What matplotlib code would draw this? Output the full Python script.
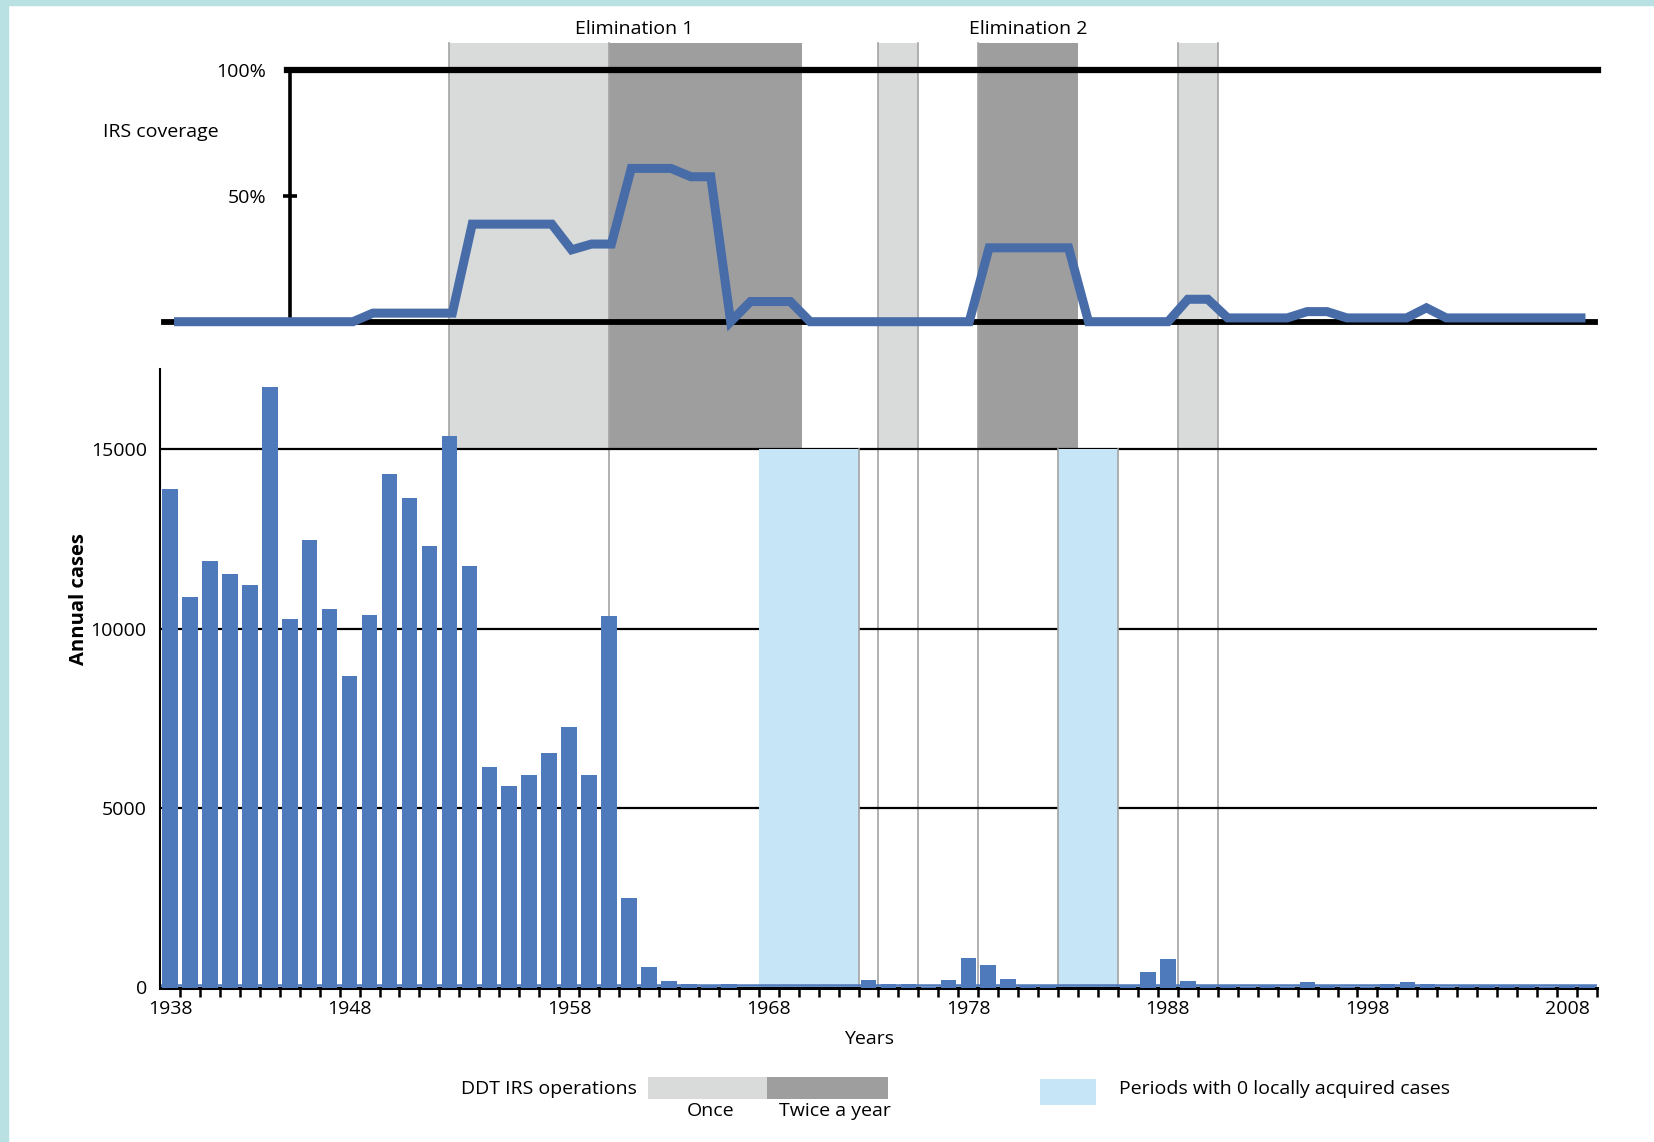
import matplotlib.pyplot as plt
import matplotlib.transforms as mtransforms
from matplotlib.patches import Rectangle
import numpy as np

plt.rcParams["font.family"] = ["Open Sans", "DejaVu Sans"]

# --- data ---
years = list(range(1938, 2010))
cases = [
    13900, 10880, 11890, 11530, 11210, 16750, 10270, 12480, 10560, 8690,
    10370, 14300, 13650, 12320, 15360, 11740, 6160, 5630, 5910, 6530,
    7260, 5910, 10360, 2500, 580, 180, 100, 30, 100, 0,
    0, 0, 0, 0, 0, 200, 100, 100, 20, 200,
    830, 630, 230, 30, 65, 0, 0, 0, 65, 440,
    790, 190, 65, 65, 20, 65, 20, 150, 65, 20,
    20, 100, 150, 100, 20, 65, 65, 65, 65, 20,
    65, 65,
]
irs_coverage = (
    [0] * 10 + [3.4] * 5 + [38.7] * 5 + [28.5] + [30.8] * 2 + [60.8] * 3
    + [57.5] * 2 + [0] + [8] * 3 + [0] * 9 + [29.3] * 5 + [0] * 5
    + [8.9] * 2 + [1.5] * 4 + [4] * 2 + [1.5] * 4 + [5.5] + [1.5] * 8
)

once_periods = [(1952, 1960), (1973.5, 1975.5), (1988.5, 1990.5)]
twice_periods = [(1960, 1969.65), (1978.5, 1983.5)]
zero_periods = [(1967.5, 1972.5), (1982.5, 1985.5)]
op_edges = [1952, 1960, 1973.5, 1975.5, 1978.5, 1988.5, 1990.5]
zero_edges = [1972.5, 1982.5, 1985.5]

label_years = ["1938", "1948", "1958", "1968", "1978", "1988", "1998", "2008"]
label_pos = [1938, 1947, 1958, 1968, 1978, 1988, 1998, 2008]
case_ticks = [0, 5000, 10000, 15000]

BAR = "#4e79bb"
LINE = "#476ca8"
LIGHT = "#d9dbdb"
DARK = "#9e9e9e"
ZERO = "#c6e5f7"
EDGE = "#a3a3a3"

W, H = 1654, 1142


def fx(px):
    return px / W


def fy(py):
    return 1 - py / H


fig = plt.figure(figsize=(W / 100, H / 100), dpi=100)

# teal frame on left and top
fig.add_artist(Rectangle((0, 0), fx(8), 1, transform=fig.transFigure,
                         color="#b9e0e3", zorder=-5))
fig.add_artist(Rectangle((0, fy(5)), 1, 1 - fy(5), transform=fig.transFigure,
                         color="#b9e0e3", zorder=-5))

# --- annual cases bars ---
y0_px, ytop_px = 987.5, 369
ytop = 17240
ax = fig.add_axes([fx(160), fy(y0_px), fx(1597) - fx(160), fy(ytop_px) - fy(y0_px)])
ax.patch.set_visible(False)
ax.set_xlim(1937.5, 2009.5)
ax.set_ylim(0, ytop)

shade_lo = 15000 / ytop
shade_hi = (y0_px - 42.5) / (y0_px - ytop_px)
xt = ax.get_xaxis_transform()
for a, b in once_periods:
    ax.axvspan(a, b, ymin=shade_lo, ymax=shade_hi, color=LIGHT, lw=0,
               clip_on=False, zorder=0.1)
for a, b in twice_periods:
    ax.axvspan(a, b, ymin=shade_lo, ymax=shade_hi, color=DARK, lw=0,
               clip_on=False, zorder=0.1)
for x in op_edges:
    ax.plot([x, x], [0, shade_hi], transform=xt, color=EDGE, lw=1.2,
            clip_on=False, zorder=0.3)

for v in case_ticks[1:]:
    ax.axhline(v, color="black", lw=1.6, zorder=0.5)

for a, b in zero_periods:
    ax.fill_between([a, b], 0, 15000, color=ZERO, lw=0, zorder=0.8)
for x in zero_edges:
    ax.plot([x, x], [0, shade_lo], transform=xt, color=EDGE, lw=1.2, zorder=0.9)

ax.bar(years, cases, width=0.78, color=BAR, zorder=2)
base = mtransforms.offset_copy(ax.transData, fig=fig, y=2.5, units="dots")
ax.plot([1937.5, 2009.5], [0, 0], color=BAR, lw=1.8, transform=base, zorder=2.1)

for s in ["top", "right"]:
    ax.spines[s].set_visible(False)
ax.spines["left"].set_linewidth(1.5)
ax.spines["bottom"].set_linewidth(2.2)
ax.spines["bottom"].set_zorder(1.9)

ax.set_xticks(label_pos, label_years)
ax.set_xticks(np.arange(1938.5, 2010, 1), minor=True)
ax.tick_params(axis="x", which="major", length=0, pad=9, labelsize=14)
ax.tick_params(axis="x", which="minor", length=6.5, width=1.8, direction="out")
ax.set_yticks(case_ticks, [str(v) for v in case_ticks])
ax.tick_params(axis="y", length=0, pad=9.5, labelsize=14)

fig.text(fx(79), fy(599), "Annual cases", rotation=90, ha="center", va="center",
         fontsize=14.5, fontweight="bold")
fig.text(fx(869), fy(1039), "Years", ha="center", va="center", fontsize=14)

# --- IRS coverage panel ---
left_px, right_px = 163.5, 1598
axt = fig.add_axes([fx(left_px), fy(321.7), fx(right_px) - fx(left_px), fy(69.6) - fy(321.7)])
axt.patch.set_visible(False)
axt.set_xlim(1937.47, 2009.63)
axt.set_ylim(0, 100)
for s in ["top", "right", "bottom"]:
    axt.spines[s].set_visible(False)
axt.spines["left"].set_position(("axes", (289.5 - left_px) / (right_px - left_px)))
axt.spines["left"].set_linewidth(2.6)
axt.axhline(100, xmin=(286.9 - left_px) / (right_px - left_px), xmax=1,
            color="black", lw=4.5, clip_on=False)
axt.axhline(0, xmin=0, xmax=(1594.8 - left_px) / (right_px - left_px),
            color="black", lw=4.2, clip_on=False)
axt.plot(years, irs_coverage, color=LINE, lw=6.5, solid_joinstyle="miter",
         solid_capstyle="butt", clip_on=False, zorder=3)
axt.set_xticks([])
axt.set_yticks([50, 100], ["50%", "100%"])
axt.tick_params(axis="y", direction="inout", length=10, width=2.6, pad=12,
                labelsize=14)
axt.yaxis.get_major_ticks()[1].tick1line.set_visible(False)

fig.text(fx(103), fy(132), "IRS coverage", ha="left", va="center", fontsize=14)
fig.text(fx(634), fy(28.5), "Elimination 1", ha="center", va="center", fontsize=14)
fig.text(fx(1028), fy(28.5), "Elimination 2", ha="center", va="center", fontsize=14)

# --- legend ---
fig.add_artist(Rectangle((fx(648), fy(1099)), fx(767) - fx(648), fy(1077) - fy(1099),
                         transform=fig.transFigure, color=LIGHT, lw=0))
fig.add_artist(Rectangle((fx(767), fy(1099)), fx(888) - fx(767), fy(1077) - fy(1099),
                         transform=fig.transFigure, color=DARK, lw=0))
fig.add_artist(Rectangle((fx(1040), fy(1105)), fx(1096) - fx(1040), fy(1079) - fy(1105),
                         transform=fig.transFigure, color=ZERO, lw=0))
fig.text(fx(637), fy(1089), "DDT IRS operations", ha="right", va="center", fontsize=14)
fig.text(fx(711), fy(1111), "Once", ha="center", va="center", fontsize=14)
fig.text(fx(835), fy(1111), "Twice a year", ha="center", va="center", fontsize=14)
fig.text(fx(1119), fy(1089), "Periods with 0 locally acquired cases", ha="left",
         va="center", fontsize=14)

fig.savefig("out.png", dpi=100)
